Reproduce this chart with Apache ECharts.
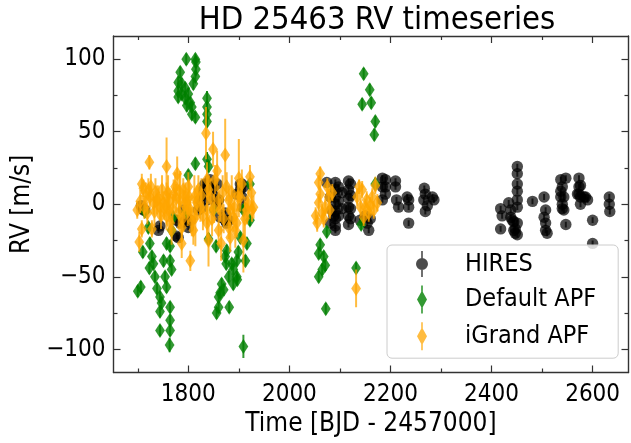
<!DOCTYPE html>
<html>
<head>
<meta charset="utf-8">
<script src="https://cdn.jsdelivr.net/npm/echarts@6/dist/echarts.min.js"></script>
<style>html,body{margin:0;padding:0;background:#fff}#c{width:631px;height:443px}</style>
</head>
<body>
<div id="c"></div>
<script>
// ---- data ----
const hiresT = [1707,1711,1714,1741,1744,1777,1777,1780,1784,1790,1794,1797,1800,1804,1820,1823,1827,1830,1830,1833,1837,1837,1843,1847,1850,1853,1856,1857,1860,1863,1873,1873,1876,1880,1896,1903,1903,1906,1906,1908,1909,
 2074,2081,2084,2081,2088,2091,2091,2091,2091,2091,2091,2091,2091,2097,2097,2097,2104,2104,2117,2117,2117,2117,2117,2117,2121,2121,2121,2121,2140,2154,2157,2150,2160,2184,2184,2184,2190,2190,2190,2210,2210,2212,2216,2233,2236,2236,2236,2267,2269,2266,2273,2269,2283,2286,
 2418,2421,2418,2434,2438,2438,2441,2444,2444,2447,2447,2451,2451,2451,2451,2451,2451,2451,2451,2481,2504,2504,2507,2507,2507,2510,2537,2537,2537,2540,2540,2540,2543,2543,2547,2547,2570,2573,2573,2573,2576,2576,2576,2583,2586,2590,2600,2600,2633,2633,2634];
const hiresRV = [-1,-4,-4,-18,-15,-11,-22,-23,-13,-4,-12,-9,-16,-11,-4,3,-2,7,10,14,3,14,17,10,12,5,0,14,3,-9,-6,-11,-13,-11,7,10,14,14,5,-2,12,
 15,5,-4,-13,-8,15,10,5,0,-5,-10,-15,-18,12,2,-8,8,-3,16,10,4,-2,-8,-14,14,6,-3,-10,-11,-13,-18,-8,-10,18,12,3,17,12,7,16,12,3,-2,5,3,-2,-13,11,7,3,-1,-5,5,3,
 -3,-8,-17,1,-4,-9,-11,-12,-18,-17,-20,-21,26,21,14,9,3,-2,-13,2,5,-9,-4,-13,-18,-20,17,9,5,12,0,-3,5,-4,18,-14,7,18,12,7,13,5,0,5,5,3,-11,-27,5,0,-5];
const hiresErr = hiresT.map(() => 2);

const defT = [1700,1706,1710,1714,1721,1724,1728,1723,1731,1734,1738,1744,1747,1744,1744,1751,1754,1757,1764,1764,1767,1764,1764,1764,1763,1757,1767,1770,
 1780,1784,1787,1780,1787,1780,1794,1794,1796,1797,1800,1804,1807,1810,1814,1815,1815,1814,1814,1807,1837,1837,1837,1837,
 1796,1800,1814,1837,1840,1850,1855,1840,1860,1856,1860,1863,1870,1866,1873,1876,1875,1880,1881,1886,1889,1889,1896,1896,1899,1903,1897,1913,1916,1922,1909,1922,1909,
 2147,2159,2144,2162,2170,2168,2170,2074,2142,2061,2058,2068,2071,2065,2058,2132,2072];
const defRV = [-60,-57,-33,-5,-16,-27,-36,-44,-41,-50,-58,-64,-68,-74,-87,-39,-50,-57,-39,-29,-45,-71,-80,-87,-97,-27,-18,-9,
 84,91,83,78,76,74,80,73,100,68,76,70,67,83,100,98,93,88,60,62,73,67,62,57,
 -5,20,28,31,26,-4,-29,-24,-64,-75,-71,-61,-59,-55,-36,-32,-41,-50,-71,-41,-45,-55,-50,-39,-33,-23,-52,-39,-27,-11,-4,14,-98,
 90,79,69,70,57,48,14,-19,-14,-28,-34,-36,-42,-45,-50,-44,-72];
const defErr = [4,4,4,4,4,4,4,4,4,4,4,4,4,4,4,4,4,4,4,4,4,4,4,4,5,4,4,4,
 4,4,4,4,4,4,4,4,4,4,4,4,4,4,4,4,4,4,4,4,5,4,4,4,
 4,4,4,5,4,4,4,4,4,4,4,4,4,4,4,4,4,4,4,4,4,4,4,4,4,4,4,4,4,4,4,4,8,
 4,4,4,4,4,4,4,4,4,4,4,4,4,4,4,4,4];

const igT = [1699,1703,1708,1708,1711,1723,1721,1724,1728,1731,1738,1744,1751,1757,1761,1757,1757,1767,1764,1771,1774,1778,1784,1787,1787,1790,1794,1797,1800,1804,1804,1814,1817,1810,1820,1824,1835,1837,1840,1837,1837,1840,1849,1853,1857,1860,1863,1860,1865,1873,1876,1880,1883,1880,1883,1889,1896,1893,1900,1903,1906,1909,1916,1922,1926,
 1705,1713,1716,1719,1726,1733,1735,1741,1746,1748,1753,1760,1763,1769,1776,1781,1782,1789,1792,1799,1802,1807,1812,1826,1829,1844,1847,1851,1868,1870,1886,1891,1898,1912,1919,1925,1929,
 2061,2058,2061,2058,2065,2055,2075,2078,2071,2068,2134,2144,2141,2150,2147,2164,2157,2167,2170,2174,2132,2138,2052,2080,2085,2153,2160];
const igRV = [-4,-26,-17,14,11,29,10,5,-17,1,3,-2,1,5,-4,-8,26,-18,-13,7,12,21,3,-16,-27,10,5,1,12,-4,-39,-9,1,-18,10,-2,49,17,10,-4,-13,-25,38,17,23,3,-4,-18,-27,34,12,3,-4,-16,-23,-9,-13,-18,18,5,14,-25,-4,19,-4,
 2,-2,6,-6,12,-5,8,4,-8,10,-3,8,2,-3,4,-6,9,-10,0,-5,5,-12,5,6,-8,5,-10,-3,8,-10,8,-2,5,-10,0,8,-2,
 21,15,7,1,-6,-13,12,5,-2,-10,5,10,-2,-2,-9,5,-6,-4,13,1,-58,12,-8,-4,8,3,-1];
const igErr = [6,7,6,7,6,5,8,8,6,8,10,9,8,10,8,10,20,10,8,10,10,12,20,10,10,8,10,8,10,8,7,20,12,10,10,10,18,12,10,10,10,18,12,10,14,10,8,10,12,25,10,10,10,8,10,10,10,12,27,10,10,22,10,8,8,
 8,8,9,8,9,10,10,9,9,10,8,12,9,10,10,9,12,9,10,10,12,10,15,12,10,12,12,10,12,10,12,10,10,15,10,10,8,
 5,5,6,6,6,6,6,6,6,6,6,6,6,6,6,6,6,6,6,6,13,5,6,6,6,6,6];

const xMajor = [1800, 2000, 2200, 2400, 2600];
const xMinor = [1700, 1900, 2100, 2300, 2500];
const yMajor = [-100, -50, 0, 50, 100];
const yMinor = [-75, -25, 25, 75];

// ---- chart ----
const FONT = '"DejaVu Sans Condensed", "DejaVu Sans", sans-serif';
const AX = '#333';
const X0 = 1652, X1 = 2671, Y0 = -116, Y1 = 116;
const gridPos = {left: 113.5, right: 2.5, top: 36, bottom: 70.5};
const fmtY = v => (v < 0 ? '\u2212' + Math.abs(v) : String(v));
const fmtX = v => String(v);

function mk(kind, color, op) {
  return function (params, api) {
    const x = api.value(0), y = api.value(1), e = api.value(2);
    const p = api.coord([x, y]);
    const a = api.coord([x, y + e]);
    const b = api.coord([x, y - e]);
    let marker;
    if (kind === 'circle') {
      marker = {type: 'circle', shape: {cx: p[0], cy: p[1], r: 5.7}, style: {fill: color, opacity: op}};
    } else {
      marker = {type: 'polygon', shape: {points: [[p[0], p[1] - 7.5], [p[0] + 4.9, p[1]], [p[0], p[1] + 7.5], [p[0] - 4.9, p[1]]]}, style: {fill: color, opacity: op}};
    }
    return {type: 'group', children: [
      {type: 'line', shape: {x1: p[0], y1: a[1], x2: p[0], y2: b[1]}, style: {stroke: color, lineWidth: 2, opacity: op}},
      marker
    ]};
  };
}

const circIcon = 'path://M5.2,0 L6.8,0 L6.8,26 L5.2,26 Z M0,13 A6,6 0 1,1 12,13 A6,6 0 1,1 0,13 Z';
const diaIcon = 'path://M5.2,0 L6.8,0 L6.8,28 L5.2,28 Z M1,14 L6,5 L11,14 L6,23 Z';

function xAx(grid, pos, values, labels, line) {
  return {type: 'value', gridIndex: grid, position: pos, min: X0, max: X1,
    axisLine: {show: line, onZero: false, lineStyle: {color: AX, width: 1.4}},
    axisTick: {show: true, inside: true, length: values === xMajor ? 7 : 4, customValues: values, lineStyle: {color: AX, width: 1.2}},
    axisLabel: labels ? {show: true, customValues: labels, color: '#000', fontSize: 24, fontFamily: FONT, margin: 10, formatter: fmtX} : {show: false},
    splitLine: {show: false}};
}
function yAx(grid, pos, values, labels, line) {
  return {type: 'value', gridIndex: grid, position: pos, min: Y0, max: Y1,
    axisLine: {show: line, onZero: false, lineStyle: {color: AX, width: 1.4}},
    axisTick: {show: true, inside: true, length: values === yMajor ? 7 : 4, customValues: values, lineStyle: {color: AX, width: 1.2}},
    axisLabel: labels ? {show: true, customValues: labels, color: '#000', fontSize: 24, fontFamily: FONT, margin: 8, formatter: fmtY} : {show: false},
    splitLine: {show: false}};
}

const xa0 = xAx(0, 'bottom', xMajor, xMajor, true);
xa0.name = 'Time [BJD - 2457000]';
xa0.nameLocation = 'middle';
xa0.nameGap = 33;
xa0.nameTextStyle = {fontSize: 26, fontFamily: FONT, color: '#000'};
const ya0 = yAx(0, 'left', yMajor, yMajor, true);
ya0.name = 'RV [m/s]';
ya0.nameLocation = 'middle';
ya0.nameGap = 74;
ya0.nameTextStyle = {fontSize: 26, fontFamily: FONT, color: '#000'};

const option = {
  animation: false,
  backgroundColor: '#fff',
  title: {text: 'HD 25463 RV timeseries', left: 372, top: -1, textAlign: 'center',
    textStyle: {fontSize: 32.5, fontWeight: 'normal', fontFamily: FONT, color: '#000'}},
  grid: [Object.assign({}, gridPos), Object.assign({}, gridPos)],
  xAxis: [xa0, xAx(0, 'top', xMajor, null, true), xAx(1, 'bottom', xMinor, null, false), xAx(1, 'top', xMinor, null, false)],
  yAxis: [ya0, yAx(0, 'right', yMajor, null, true), yAx(1, 'left', yMinor, null, false), yAx(1, 'right', yMinor, null, false)],
  legend: {
    orient: 'vertical', left: 387, top: 245,
    padding: [6, 22, 8, 29],
    itemWidth: 12, itemHeight: 28, itemGap: 8.6,
    backgroundColor: 'rgba(255,255,255,0.8)', borderColor: '#cccccc', borderWidth: 1, borderRadius: 5,
    textStyle: {fontSize: 25, fontFamily: FONT, color: '#000', padding: [0, 0, 0, 32]},
    data: [
      {name: 'HIRES', icon: circIcon, itemStyle: {color: '#000', opacity: 0.7}},
      {name: 'Default APF', icon: diaIcon, itemStyle: {color: '#008000', opacity: 0.8}},
      {name: 'iGrand APF', icon: diaIcon, itemStyle: {color: '#FFA500', opacity: 0.75}}
    ]
  },
  series: [
    {name: 'HIRES', type: 'custom', xAxisIndex: 0, yAxisIndex: 0, clip: true,
      itemStyle: {color: '#000', opacity: 0.7},
      renderItem: mk('circle', '#000', 0.7), encode: {x: 0, y: 1},
      data: hiresT.map((t, i) => [t, hiresRV[i], hiresErr[i]])},
    {name: 'Default APF', type: 'custom', xAxisIndex: 0, yAxisIndex: 0, clip: true,
      itemStyle: {color: '#008000', opacity: 0.8},
      renderItem: mk('diamond', '#008000', 0.8), encode: {x: 0, y: 1},
      data: defT.map((t, i) => [t, defRV[i], defErr[i]])},
    {name: 'iGrand APF', type: 'custom', xAxisIndex: 0, yAxisIndex: 0, clip: true,
      itemStyle: {color: '#FFA500', opacity: 0.75},
      renderItem: mk('diamond', '#FFA500', 0.75), encode: {x: 0, y: 1},
      data: igT.map((t, i) => [t, igRV[i], igErr[i]])}
  ]
};
const chart = echarts.init(document.getElementById('c'), null, {renderer: 'canvas'});
chart.setOption(option);
</script>
</body>
</html>
